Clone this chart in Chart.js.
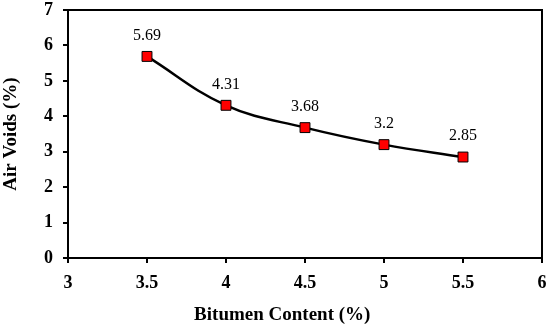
<!DOCTYPE html>
<html>
<head>
<meta charset="utf-8">
<script src="https://cdn.jsdelivr.net/npm/chart.js@4"></script>
<style>
html,body{margin:0;padding:0;background:#fff;}
#wrap{width:550px;height:327px;}
</style>
</head>
<body>
<div id="wrap"><canvas id="c" width="550" height="327"></canvas></div>
<script>
const bitumenContent = [3.5, 4, 4.5, 5, 5.5];
const airVoids = [5.69, 4.31, 3.68, 3.2, 2.85];
const pointLabels = ['5.69', '4.31', '3.68', '3.2', '2.85'];
const xTitle = 'Bitumen Content (%)';
const yTitle = 'Air Voids (%)';

const FONT = "'Liberation Serif', 'Times New Roman', serif";

const framePlugin = {
  id: 'frame',
  afterDraw(chart) {
    const {ctx, chartArea: a} = chart;
    ctx.save();
    ctx.strokeStyle = '#000';
    ctx.lineWidth = 2;
    ctx.beginPath();
    ctx.moveTo(a.left, a.top);
    ctx.lineTo(a.right, a.top);
    ctx.lineTo(a.right, a.bottom);
    ctx.stroke();
    // x axis title (sits left of the plot centre in the reference)
    ctx.fillStyle = '#000';
    ctx.font = 'bold 19px ' + FONT;
    ctx.textAlign = 'center';
    ctx.textBaseline = 'middle';
    ctx.fillText(xTitle, a.left + (a.right - a.left) * 0.452, 315);
    ctx.restore();
  }
};

const labelPlugin = {
  id: 'ptLabels',
  afterDatasetsDraw(chart) {
    const {ctx} = chart;
    const meta = chart.getDatasetMeta(0);
    ctx.save();
    ctx.fillStyle = '#000';
    ctx.font = '16px ' + FONT;
    ctx.textAlign = 'center';
    ctx.textBaseline = 'middle';
    meta.data.forEach((el, i) => {
      ctx.fillText(pointLabels[i], el.x, el.y - 21);
    });
    ctx.restore();
  }
};

new Chart(document.getElementById('c'), {
  type: 'scatter',
  data: {
    datasets: [{
      data: bitumenContent.map((x, i) => ({x: x, y: airVoids[i]})),
      showLine: true,
      borderColor: '#000',
      borderWidth: 2.5,
      tension: 0.4,
      pointStyle: 'rect',
      pointRadius: 7,
      pointHoverRadius: 7,
      pointBackgroundColor: '#ff0000',
      pointBorderColor: '#000',
      pointBorderWidth: 1
    }]
  },
  options: {
    responsive: false,
    animation: false,
    devicePixelRatio: 1,
    layout: {padding: {top: 10, right: 7, left: 0, bottom: 0}},
    plugins: {legend: {display: false}, tooltip: {enabled: false}},
    scales: {
      x: {
        type: 'linear',
        min: 3, max: 6,
        afterFit(s) { s.height = 69; s.paddingLeft = 0; s.paddingRight = 0; },
        ticks: {stepSize: 0.5, color: '#000', padding: 10, callback: v => String(v), font: {family: FONT, size: 18, weight: 'bold'}},
        grid: {drawOnChartArea: false, tickLength: 5, color: '#000', lineWidth: 2},
        border: {color: '#000', width: 2},
        title: {display: false, text: xTitle}
      },
      y: {
        min: 0, max: 7,
        afterFit(s) { s.width = 68; s.paddingTop = 0; s.paddingBottom = 0; },
        ticks: {stepSize: 1, color: '#000', padding: 10, callback: v => String(v), font: {family: FONT, size: 18, weight: 'bold'}},
        grid: {drawOnChartArea: false, tickLength: 5, color: '#000', lineWidth: 2},
        border: {color: '#000', width: 2},
        title: {display: true, text: yTitle, color: '#000', padding: {top: 0, bottom: 0}, font: {family: FONT, size: 19, weight: 'bold'}}
      }
    }
  },
  plugins: [framePlugin, labelPlugin]
});
</script>
</body>
</html>
